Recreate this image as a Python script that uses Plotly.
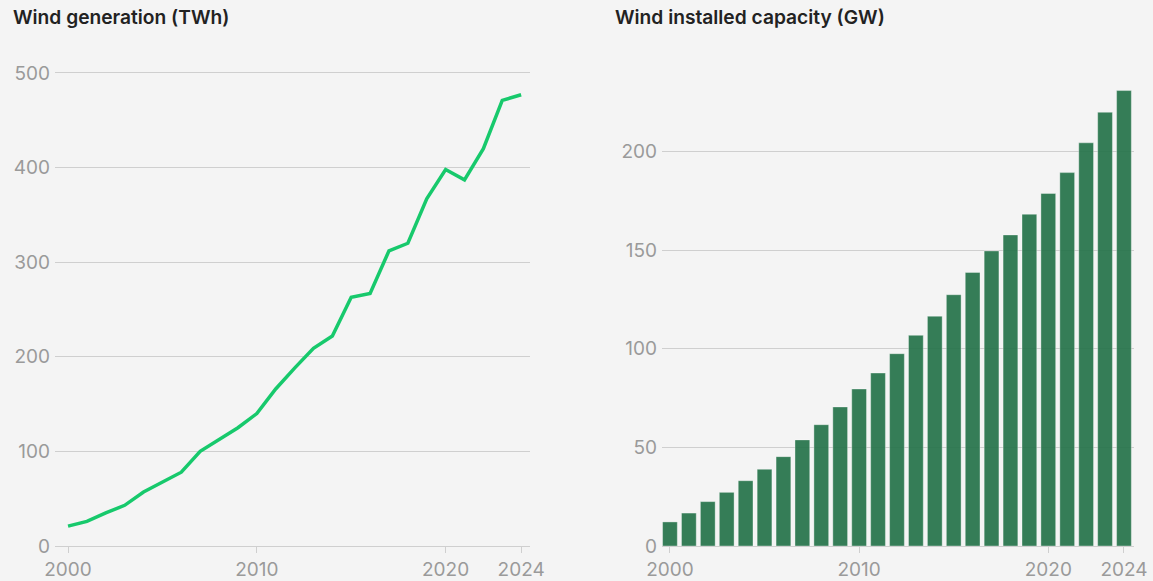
import plotly.graph_objects as go

years = list(range(2000, 2025))

# Wind generation (TWh)
generation = [21, 26, 35, 43, 57, 67, 78, 100, 113, 125, 140, 166, 188, 209, 222,
              263, 267, 312, 320, 367, 398, 387, 420, 471, 477]

# Wind installed capacity (GW)
capacity = [12.2, 16.7, 22.5, 27.2, 33.1, 38.9, 45.3, 53.8, 61.5, 70.5, 79.6, 87.7,
            97.5, 106.8, 116.5, 127.4, 138.7, 149.6, 157.7, 168.2, 178.7, 189.3,
            204.4, 219.9, 230.9]

x_ticks = [2000, 2010, 2020, 2024]
gen_ticks = [0, 100, 200, 300, 400, 500]
cap_ticks = [0, 50, 100, 150, 200]

W, H = 1153, 581
bg = '#f4f4f4'
grid = '#cfcfcf'
tick_font = dict(family='Inter, Lato, sans-serif', size=19, color='#9a9a9a')
title_font = dict(family='Inter, Lato, sans-serif', size=19.2, color='#222222', weight=600)

fig = go.Figure()

fig.add_trace(go.Scatter(x=years, y=generation, mode='lines',
                         line=dict(color='#17c96c', width=3.5),
                         xaxis='x', yaxis='y', showlegend=False))

fig.add_trace(go.Bar(x=years, y=capacity, marker=dict(color='rgba(32,112,70,0.9)',
                                                      line=dict(color='rgba(255,255,255,0.35)', width=1)),
                     xaxis='x2', yaxis='y2', showlegend=False))

ybot = (H - 546) / H
ytop = (H - 60) / H

axis_common = dict(showgrid=False, zeroline=False, showline=True, linecolor=grid, linewidth=1,
                   ticks='outside', ticklen=6, tickcolor=grid, tickvals=x_ticks,
                   tickfont=tick_font, fixedrange=True, automargin=False)
yaxis_common = dict(showgrid=True, gridcolor=grid, gridwidth=1, zeroline=False, showline=False,
                    ticks='', tickfont=tick_font, fixedrange=True, automargin=False,
                    ticklabelstandoff=4)

fig.update_layout(
    width=W, height=H,
    margin=dict(l=0, r=0, t=0, b=0, pad=0),
    paper_bgcolor=bg, plot_bgcolor=bg,
    bargap=0.22,
    xaxis=dict(domain=[55 / W, 530 / W], range=[1999.31, 2024.47], anchor='y', **axis_common),
    yaxis=dict(domain=[ybot, ytop], range=[0, 513.7], tickvals=gen_ticks, anchor='x', **yaxis_common),
    xaxis2=dict(domain=[662 / W, 1134 / W], range=[1999.58, 2024.53], anchor='y2', **axis_common),
    yaxis2=dict(domain=[ybot, ytop], range=[0, 246.4], tickvals=cap_ticks, anchor='x2', **yaxis_common),
    annotations=[
        dict(text='Wind generation (TWh)', x=11 / W, y=1 - 17 / H, xref='paper', yref='paper',
             xanchor='left', yanchor='middle', showarrow=False, font=title_font),
        dict(text='Wind installed capacity (GW)', x=613 / W, y=1 - 17 / H, xref='paper', yref='paper',
             xanchor='left', yanchor='middle', showarrow=False, font=title_font),
    ],
)

fig.write_html('out.html', config={'displayModeBar': False},
               post_script="document.body.style.margin='0';document.body.style.background='#f4f4f4';")
